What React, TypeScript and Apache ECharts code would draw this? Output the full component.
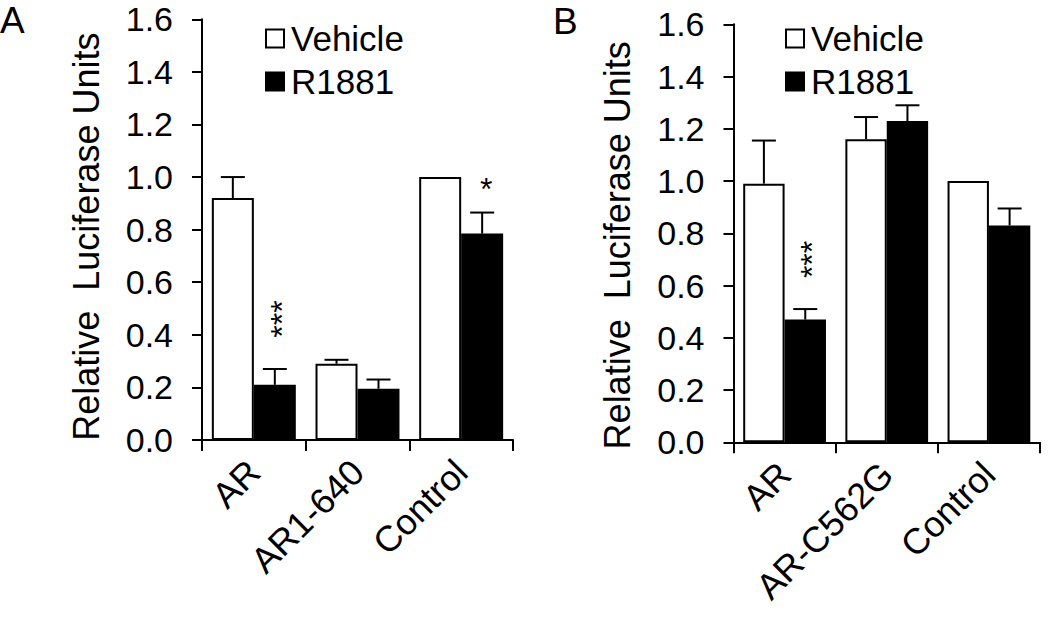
import React, { useEffect, useRef } from "react";
import * as echarts from "echarts";

const FONT = '"Liberation Sans", Arial, Helvetica, sans-serif';

// Panel A
const categoriesA = ["AR", "AR1-640", "Control"];
const vehicleA = [0.92, 0.29, 1.0];
const vehicleErrA = [0.08, 0.015, 0];
const r1881A = [0.21, 0.195, 0.785];
const r1881ErrA = [0.06, 0.035, 0.08];
const sigA = [
  { cat: 0, y: 0.46, text: "***", vertical: true },
  { cat: 2, y: 0.97, text: "*", vertical: false },
];

// Panel B
const categoriesB = ["AR", "AR-C562G", "Control"];
const vehicleB = [0.99, 1.16, 1.0];
const vehicleErrB = [0.165, 0.085, 0];
const r1881B = [0.47, 1.23, 0.83];
const r1881ErrB = [0.04, 0.06, 0.065];
const sigB = [{ cat: 0, y: 0.7, text: "***", vertical: true }];

const seriesNames = ["Vehicle", "R1881"];
const yMin = 0;
const yMax = 1.6;
const yInterval = 0.2;
const yTitle = "Relative  Luciferase Units";
const panelLabels = ["A", "B"];

const GAP = 0.19;

function errorRenderer(side: number) {
  return (params: any, api: any) => {
    const cat = api.value(0);
    const v = api.value(1);
    const e = api.value(2);
    if (!e) return null;
    const band = api.size([1, 0])[0];
    const bw = (band * (1 - GAP)) / 2;
    const base = api.coord([cat, v]);
    const top = api.coord([cat, v + e]);
    const x = base[0] + (side * bw) / 2;
    const cap = 12;
    const st = { stroke: "#000", lineWidth: 2 };
    return {
      type: "group",
      children: [
        { type: "line", shape: { x1: x, y1: base[1], x2: x, y2: top[1] }, style: st },
        { type: "line", shape: { x1: x - cap, y1: top[1], x2: x + cap, y2: top[1] }, style: st },
      ],
    };
  };
}

function sigRenderer(params: any, api: any) {
  const cat = api.value(0);
  const y = api.value(1);
  const vertical = api.value(3);
  const band = api.size([1, 0])[0];
  const bw = (band * (1 - GAP)) / 2;
  const p = api.coord([cat, y]);
  const x = p[0] + bw / 2;
  return {
    type: "text",
    x: vertical ? x + 7 : x + 4,
    y: vertical ? p[1] : p[1] + 4,
    rotation: vertical ? Math.PI / 2 : 0,
    style: {
      text: api.value(2),
      fontSize: 32,
      fontFamily: FONT,
      fill: "#000",
      align: "center",
      verticalAlign: "middle",
    },
  };
}

function axesFor(gridIndex: number, cats: string[], titleShift: number) {
  const line = { lineStyle: { color: "#000", width: 2 } };
  return {
    x: {
      gridIndex,
      type: "category",
      data: cats,
      axisLine: { show: true, ...line },
      axisTick: { show: true, length: 11, lineStyle: { color: "#000", width: 2 } },
      axisLabel: { rotate: 45, margin: 26, interval: 0, fontSize: 36, color: "#000", fontFamily: FONT },
      splitLine: { show: false },
    },
    y: {
      gridIndex,
      type: "value",
      min: yMin,
      max: yMax,
      interval: yInterval,
      axisLine: { show: true, ...line },
      axisTick: { show: true, length: 10, lineStyle: { color: "#000", width: 2 } },
      axisLabel: {
        margin: 29,
        fontSize: 34,
        color: "#000",
        fontFamily: FONT,
        formatter: (v: number) => v.toFixed(1),
      },
      splitLine: { show: false },
      name: yTitle,
      nameLocation: "middle",
      nameGap: 98,
      nameTextStyle: { fontSize: 36, color: "#000", fontFamily: FONT, padding: [0, titleShift, 0, 0] },
    },
  };
}

function seriesFor(
  idx: number,
  veh: number[],
  vehErr: number[],
  r: number[],
  rErr: number[],
  sig: { cat: number; y: number; text: string; vertical: boolean }[]
) {
  return [
    {
      name: seriesNames[0],
      type: "bar",
      xAxisIndex: idx,
      yAxisIndex: idx,
      data: veh,
      barGap: "0%",
      barCategoryGap: GAP * 100 + "%",
      itemStyle: { color: "#fff", borderColor: "#000", borderWidth: 2 },
    },
    {
      name: seriesNames[1],
      type: "bar",
      xAxisIndex: idx,
      yAxisIndex: idx,
      data: r,
      barGap: "0%",
      barCategoryGap: GAP * 100 + "%",
      itemStyle: { color: "#000", borderColor: "#000", borderWidth: 2 },
    },
    {
      type: "custom",
      xAxisIndex: idx,
      yAxisIndex: idx,
      renderItem: errorRenderer(-1),
      data: veh.map((v, i) => [i, v, vehErr[i]]),
      z: 5,
      silent: true,
    },
    {
      type: "custom",
      xAxisIndex: idx,
      yAxisIndex: idx,
      renderItem: errorRenderer(1),
      data: r.map((v, i) => [i, v, rErr[i]]),
      z: 5,
      silent: true,
    },
    {
      type: "custom",
      xAxisIndex: idx,
      yAxisIndex: idx,
      renderItem: sigRenderer,
      data: sig.map((s) => [s.cat, s.y, s.text, s.vertical ? 1 : 0]),
      z: 6,
      silent: true,
    },
  ];
}

export default function App() {
  const ref = useRef<HTMLDivElement>(null);
  useEffect(() => {
    if (!ref.current) return;
    const chart = echarts.init(ref.current, null, { renderer: "svg" });
    const a = axesFor(0, categoriesA, 14);
    const b = axesFor(1, categoriesB, 24);
    const legendBase = {
      data: seriesNames,
      orient: "vertical",
      icon: "rect",
      itemWidth: 18,
      itemHeight: 18,
      itemGap: 8,
      padding: 0,
      selectedMode: false,
      textStyle: { fontSize: 35, lineHeight: 35, color: "#000", fontFamily: FONT, padding: [0, 0, 0, 2] },
    };
    chart.setOption({
      animation: false,
      backgroundColor: "#fff",
      title: [
        { text: panelLabels[0], left: 0, top: 2, padding: 0, textStyle: { fontSize: 37, fontWeight: "normal", color: "#000", fontFamily: FONT } },
        { text: panelLabels[1], left: 553, top: 3, padding: 0, textStyle: { fontSize: 37, fontWeight: "normal", color: "#000", fontFamily: FONT } },
      ],
      grid: [
        { left: 202, top: 19.3, width: 311, height: 420.7 },
        { left: 733.5, top: 24.3, width: 306.5, height: 418 },
      ],
      legend: [
        { ...legendBase, left: 265, top: 21 },
        { ...legendBase, left: 785, top: 21 },
      ],
      xAxis: [a.x, b.x],
      yAxis: [a.y, b.y],
      series: [
        ...seriesFor(0, vehicleA, vehicleErrA, r1881A, r1881ErrA, sigA),
        ...seriesFor(1, vehicleB, vehicleErrB, r1881B, r1881ErrB, sigB),
      ],
    });
    return () => chart.dispose();
  }, []);
  return (
    <div
      ref={ref}
      style={{ position: "fixed", left: 0, top: 0, width: 1050, height: 617, background: "#fff" }}
    />
  );
}
